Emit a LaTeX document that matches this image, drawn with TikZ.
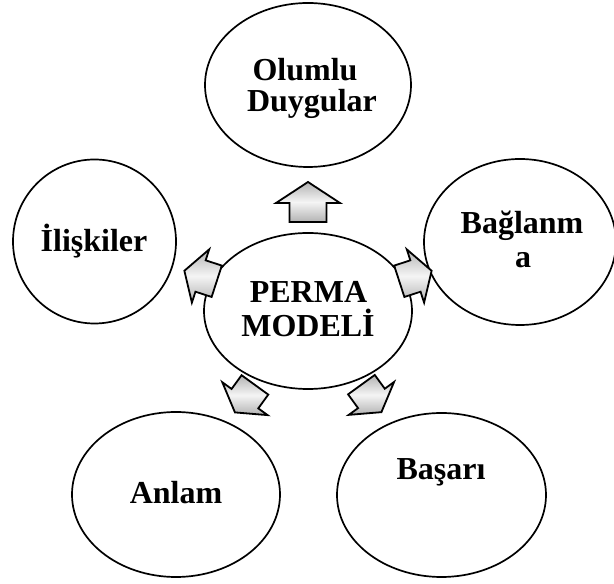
\documentclass[tikz,border=0pt]{standalone}
\usepackage{fontspec}
\setmainfont{Liberation Serif}
\usetikzlibrary{shapes.geometric,calc}

\tikzset{
  oval/.style={draw=black, line width=1.7pt, ellipse, inner sep=0pt},
  word/.style={font=\fontsize{32}{36}\selectfont\bfseries, anchor=base, inner sep=0pt},
  arrowbody/.style={draw=black, line width=1.8pt, line join=miter,
    left color=gray!60, right color=gray!60, middle color=gray!8},
}

% house-shaped outward arrow: #1 centre, #2 angle, #3 length, #4 head width,
% #5 shaft width, #6 head length
\newcommand\radarrow[6]{%
  \begin{scope}[shift={#1}, rotate=#2]
    \path[arrowbody, shading angle=0]
      (-#3/2,-#5/2) -- (#3/2-#6,-#5/2) -- (#3/2-#6,-#4/2) -- (#3/2,0)
      -- (#3/2-#6,#4/2) -- (#3/2-#6,#5/2) -- (-#3/2,#5/2) -- cycle;
  \end{scope}}

\begin{document}
\begin{tikzpicture}[x=1pt, y=1pt]
  \useasboundingbox (0,0) rectangle (614,584);

  % ellipses
  \node[oval, minimum width=208pt, minimum height=156pt] (perma) at (308,273) {};
  \node[oval, minimum width=206pt, minimum height=164pt] (olumlu) at (308,499) {};
  \node[oval, minimum width=163pt, minimum height=164pt] (iliski) at (94.5,342.5) {};
  \node[oval, minimum width=192pt, minimum height=166pt] (baglan) at (520,342) {};
  \node[oval, minimum width=208pt, minimum height=165pt] (anlam) at (176,89.5) {};
  \node[oval, minimum width=209pt, minimum height=164pt] (basari) at (441.5,89) {};

  % labels
  \node[word] (permaA) at (308.5,281) {PERMA};
  \node[word] (permaB) at (308,247) {MODELİ};
  \node[word] (olumluA) at (305,503) {Olumlu};
  \node[word] (olumluB) at (312,472) {Duygular};
  \node[word] (iliskiA) at (94,332) {İlişkiler};
  \node[word] (baglanA) at (522,350) {Bağlanm};
  \node[word] (baglanB) at (523,316) {a};
  \node[word] (anlamA) at (176,80) {Anlam};
  \node[word] (basariA) at (441,104) {Başarı};

  % arrows from the centre towards each outer ellipse
  \radarrow{($(perma)!109pt!(olumlu)$)}{90}{40}{64}{37}{21}
  \radarrow{($(perma)!113pt!(iliski)$)}{162}{34}{56}{33}{17}
  \radarrow{($(perma)!113pt!(baglan)$)}{18}{34}{56}{33}{17}
  \radarrow{($(perma)!108pt!(anlam)$)}{-126}{34}{56}{33}{17}
  \radarrow{($(perma)!108pt!(basari)$)}{-54}{34}{56}{33}{17}
\end{tikzpicture}
\end{document}
